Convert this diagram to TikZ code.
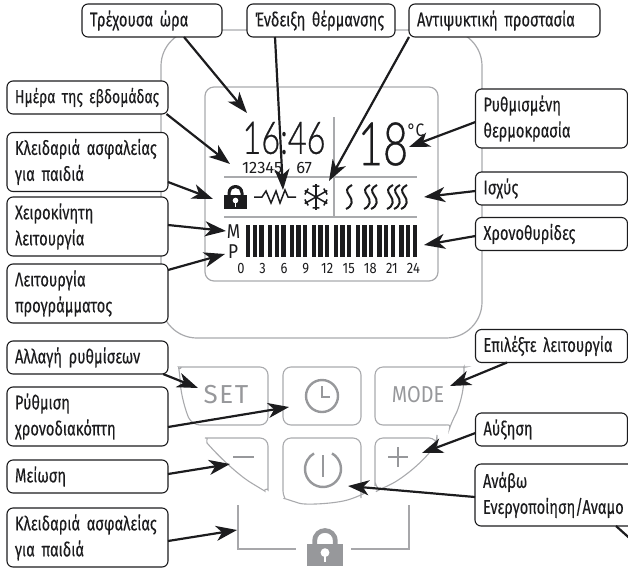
\documentclass[tikz,border=0pt]{standalone}
\usepackage{fontspec}
\usetikzlibrary{arrows.meta, calc}
\setmainfont{Fira Sans}
\newfontfamily\boxfont[FakeStretch=0.74, FakeBold=0.15]{Fira Sans}
\newfontfamily\lcdfont[FakeStretch=0.72, FakeBold=0.6]{Lato Light}
\newfontfamily\keyfont[FakeStretch=0.86]{Fira Sans}
\newfontfamily\setfont[LetterSpace=6]{Fira Sans}
\definecolor{inkdark}{HTML}{1C1C1E}
\definecolor{casegrey}{HTML}{A9AAAD}
\definecolor{keygrey}{HTML}{97989B}

\begin{document}
\begin{tikzpicture}[x=1pt, y=-1pt, >=Stealth,
    callout/.style={draw=inkdark, line width=1.1pt, rounded corners=6pt, fill=white,
                    outer sep=0pt, inner xsep=4pt, inner ysep=0pt, align=left,
                    minimum height=33pt, minimum width=#1pt, text width=#1pt-8pt,
                    execute at begin node={\setlength\leftskip{4pt}},
                    text=inkdark, font=\boxfont\fontsize{19.8}{26}\selectfont},
    twoline/.style={minimum height=59pt},
    pointer/.style={line width=2.2pt, draw=inkdark,
                    -{Stealth[length=21pt, width=15pt, inset=6pt]}},
    caseline/.style={draw=casegrey, line width=1.2pt},
    keyline/.style={draw=casegrey, line width=1.1pt, rounded corners=8pt},
    keysign/.style={draw=keygrey, line width=2.4pt},
    lcdline/.style={draw=inkdark, line width=1.5pt},
    lcdtext/.style={text=inkdark, inner sep=0pt, font=\keyfont\fontsize{15}{15}\selectfont},
    keytext/.style={text=keygrey, inner sep=0pt},
    pics/padlock/.style={code={
        \fill[#1] (-11.5,-7) rectangle (11.5,7);
        \fill[#1] (-8,-7) -- (-8,-9) .. controls (-8,-14) and (-4,-17) .. (0,-17)
            .. controls (4,-17) and (8,-14) .. (8,-9) -- (8,-7) -- (5,-7) -- (5,-9)
            .. controls (5,-12) and (3,-14) .. (0,-14)
            .. controls (-3,-14) and (-5,-12) .. (-5,-9) -- (-5,-7) -- cycle;
        \fill[white] (0,-1.5) circle[radius=2.8];
        \fill[white] (-0.8,-1.5) rectangle (0.8,4.5);
    }}]
    \useasboundingbox (0,0) rectangle (628,570);

    % housing and display
    \draw[caseline, rounded corners=36pt] (161,30) rectangle (482,338);
    \draw[caseline, rounded corners=9pt] (205,87) rectangle (438,281);
    \draw[caseline] (224,177) -- (417,177);
    \draw[caseline] (224,217) -- (417,217);
    \draw[caseline] (334,117) -- (334,217);

    % display readings
    \node[inner sep=0pt, text=inkdark, font=\lcdfont\fontsize{45}{45}\selectfont] (clock) at (284,138) {16:46};
    \node[inner sep=0pt, text=inkdark, font=\lcdfont\fontsize{60}{60}\selectfont] (setval) at (383,144) {18};
    \node[inner sep=0pt, text=inkdark, font=\keyfont\fontsize{18}{18}\selectfont] (degc) at (416,130) {°C};
    \node[lcdtext, font=\normalfont\fontsize{16.5}{16.5}\selectfont] (days) at (277,168) {12345\hspace{14pt}67};
    \node[lcdtext, font=\keyfont\fontsize{20}{20}\selectfont] (manual) at (233.5,232) {M};
    \node[lcdtext, font=\keyfont\fontsize{20}{20}\selectfont] (prog) at (233,251.5) {P};
    \foreach \hour [count=\n from 0] in {0,3,6,9,12,15,18,21,24}
        \node[lcdtext] (h\n) at ({241+21.55*\n},268.5) {\hour};

    % time slot bars
    \foreach \grp in {0,...,7}
        \foreach \bar in {0,1,2}
            \fill[inkdark] ({246+21.9*\grp+6.6*\bar},225) rectangle ++(4.4,32);

    % status icons
    \pic at (235.5,202) {padlock=inkdark};
    \draw[lcdline] (254,197) -- (262,197) -- (266,191) -- (271,203) -- (276,191)
        -- (280,203) -- (285,190) -- (288,197) -- (296,197);
    \coordinate (snow) at (316,197);
    \foreach \ang in {30,90,...,330} {
        \draw[lcdline] (snow) -- ++(\ang:13pt);
        \draw[lcdline] ($(snow)+(\ang:8pt)+(\ang+50:4.5pt)$) -- ($(snow)+(\ang:11pt)$)
            -- ($(snow)+(\ang:8pt)+(\ang-50:4.5pt)$);
    }
    \foreach \wx in {346,364,371,387,394,401}
        \draw[inkdark, line width=2pt] (\wx+6,185) .. controls (\wx,188) and (\wx,191) .. (\wx+3,195)
            .. controls (\wx+7,200) and (\wx+7,206) .. (\wx,209);

    % keys
    \draw[keyline] (192,425) .. controls (186,412) and (181,395) .. (180,376)
        .. controls (179,370) and (183,367) .. (188,367) -- (268,367) -- (268,425) -- cycle;
    \draw[keyline] (283,367) rectangle (361,425);
    \draw[keyline] (445,425) -- (375,425) -- (375,367) -- (458,367)
        .. controls (462,367) and (464,370) .. (464,375)
        .. controls (463,395) and (458,410) .. (452,421)
        .. controls (451,424) and (448,425) .. (445,425);
    \draw[keyline] (207,443) .. controls (206,439) and (209,438) .. (213,438) -- (268,438)
        -- (268,482) .. controls (268,488) and (263,490) .. (258,487)
        .. controls (240,476) and (222,460) .. (207,443);
    \draw[keyline] (283,491) -- (283,438) -- (361,438) -- (361,490)
        .. controls (361,494) and (359,496) .. (357,497)
        .. controls (335,504) and (305,505) .. (292,501)
        .. controls (286,499) and (283,496) .. (283,491);
    \draw[keyline] (377,487) .. controls (375,483) and (375,480) .. (375,478) -- (375,438)
        -- (437,438) -- (437,443) .. controls (420,465) and (400,480) .. (383,488)
        .. controls (381,489) and (379,489) .. (377,487);

    \node[keytext, font=\setfont\fontsize{26}{26}\selectfont] (setkey) at (226,395) {SET};
    \node[keytext, font=\keyfont\fontsize{23}{23}\selectfont] (modekey) at (418,395) {MODE};
    \draw[keysign] (322,396) circle[radius=16pt];
    \draw[keysign] (322,386) -- (322,397) -- (330,397);
    \draw[keysign] (233,457) -- (254,457);
    \draw[keysign] (388,457) -- (408,457);
    \draw[keysign] (398,447) -- (398,467);
    \draw[keysign] ([shift={(60:18pt)}]323,469) arc[start angle=60, end angle=-240, radius=18pt];
    \draw[keysign] (323,455) -- (323,477);

    % child lock bracket
    \draw[keyline, rounded corners=0pt, line width=1.8pt, draw=keygrey!85] (238,505) -- (238,549) -- (296,549);
    \draw[keyline, rounded corners=0pt, line width=1.8pt, draw=keygrey!85] (351,549) -- (409,549) -- (409,505);
    \pic[scale=1.58] at (325,555) {padlock=keygrey};

    % labels, top row
    \node[callout=140] (nowtime) at (152,20.5) {Τρέχουσα ώρα};
    \node[callout=148] (heating) at (321,20.5) {Ένδειξη θέρμανσης};
    \node[callout=191] (frost) at (504.5,20.5) {Αντιψυκτική προστασία};

    % labels, left column
    \node[callout=161, font=\boxfont\fontsize{18.8}{26}\selectfont] (weekday) at (87.5,97.5) {Ημέρα της εβδομάδας};
    \node[callout=161, twoline] (kidlock) at (87.5,162) {Κλειδαριά ασφαλείας\\για παιδιά};
    \node[callout=161, twoline] (handmode) at (87.5,226.5) {Χειροκίνητη\\λειτουργία};
    \node[callout=161, twoline] (progmode) at (87.5,293.5) {Λειτουργία\\προγράμματος};
    \node[callout=161] (settings) at (87.5,357.5) {Αλλαγή ρυθμίσεων};
    \node[callout=161, twoline] (timer) at (87.5,416.5) {Ρύθμιση\\χρονοδιακόπτη};
    \node[callout=161] (decrease) at (87.5,476.5) {Μείωση};
    \node[callout=161, twoline] (kidlockb) at (87.5,537.5) {Κλειδαριά ασφαλείας\\για παιδιά};

    % labels, right column
    \node[callout=152, twoline] (target) at (551.5,118.5) {Ρυθμισμένη\\θερμοκρασία};
    \node[callout=152] (power) at (551.5,188.5) {Ισχύς};
    \node[callout=152] (slots) at (551.5,234) {Χρονοθυρίδες};
    \node[callout=152] (choose) at (551.5,346) {Επιλέξτε λειτουργία};
    \node[callout=152] (increase) at (551.5,429.5) {Αύξηση};
    \node[callout=170, minimum height=62pt] (onoff) at (560,495) {Ανάβω\\Ενεργοποίηση/Αναμο};

    % where the pointers end
    \coordinate (tTime) at (247,113);
    \coordinate (tHeat) at (283,190);
    \coordinate (tFrost) at (329,181);
    \coordinate (tDay) at (230,164);
    \coordinate (tLock) at (213,199);
    \coordinate (tHand) at (226,231);
    \coordinate (tProg) at (225,254);
    \coordinate (tSet) at (198,388);
    \coordinate (tTimer) at (289,407);
    \coordinate (tMinus) at (230,464);
    \coordinate (tBracket) at (237,530);
    \coordinate (tTarget) at (409,147);
    \coordinate (tPower) at (424,197);
    \coordinate (tSlots) at (424,245);
    \coordinate (tMode) at (450,386);
    \coordinate (tPlus) at (422,453);
    \coordinate (tOn) at (348,486);
    \coordinate (tOff) at (655,561);

    \draw[pointer] ([xshift=32pt]nowtime.south) -- (tTime);
    \draw[pointer] ([xshift=-46pt]heating.south) -- (tHeat);
    \draw[pointer] (frost.south west) -- (tFrost);
    \draw[pointer] ([xshift=-1.5pt]weekday.south east) -- (tDay);
    \draw[pointer] ([yshift=-20pt]kidlock.east) -- (tLock);
    \draw[pointer] ([yshift=1.5pt]handmode.east) -- (tHand);
    \draw[pointer] ([yshift=23.5pt]progmode.east) -- (tProg);
    \draw[pointer] ([xshift=-5pt]settings.south east) -- (tSet);
    \draw[pointer] ([yshift=-10.5pt]timer.east) -- (tTimer);
    \draw[pointer] ([yshift=2.5pt]decrease.east) -- (tMinus);
    \draw[pointer] ([yshift=-3.5pt]kidlockb.east) -- (tBracket);
    \draw[pointer] ([yshift=-3.5pt]target.west) -- (tTarget);
    \draw[pointer] ([yshift=-2.5pt]power.west) -- (tPower);
    \draw[pointer] ([yshift=-2pt]slots.west) -- (tSlots);
    \draw[pointer] ([xshift=-44.5pt]choose.south) -- (tMode);
    \draw[pointer] ([yshift=-3.5pt]increase.west) -- (tPlus);
    \draw[pointer] ([yshift=-2pt]onoff.west) -- (tOn);
    \draw[pointer] ([xshift=56pt]onoff.south) -- (tOff);
\end{tikzpicture}
\end{document}
